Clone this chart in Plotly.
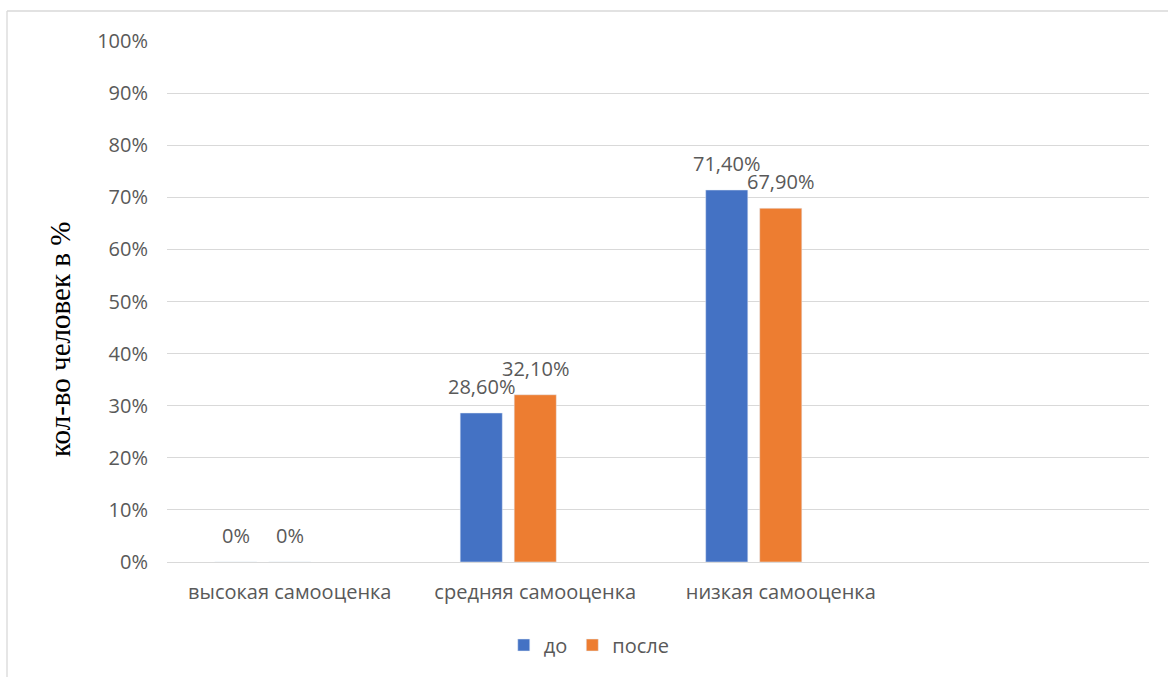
import plotly.graph_objects as go

# Chart data
categories = ["высокая самооценка", "средняя самооценка", "низкая самооценка"]
before = [0.0, 28.6, 71.4]
after = [0.0, 32.1, 67.9]
before_labels = ["0%", "28,60%", "71,40%"]
after_labels = ["0%", "32,10%", "67,90%"]
y_ticks = [0, 10, 20, 30, 40, 50, 60, 70, 80, 90, 100]
y_tick_text = [f"{v}%" for v in y_ticks]

W, H = 1168, 677
L, R, T, B = 167, 19, 41, 115
TEXT = "#595959"
FONT = "Open Sans"
FS = 20

fig = go.Figure()
fig.add_trace(go.Bar(name="до", x=categories, y=before, marker_color="#4472C4"))
fig.add_trace(go.Bar(name="после", x=categories, y=after, marker_color="#ED7D31"))
# empty third series keeps the group slots of the original workbook
fig.add_trace(go.Bar(
    name="", x=categories, y=[None, None, None], showlegend=False,
    marker_color="#A5A5A5", hoverinfo="skip",
))

pw = W - L - R
ph = H - T - B


def px_x(p):
    return (p - L) / pw


def px_y(p):
    return 1 - (p - T) / ph


# value labels sit above each bar, shifted to that series' slot in the group
slot = 54  # px between bar centres within a group
annotations = []
for values, labels, dx in ((before, before_labels, -slot), (after, after_labels, 0)):
    for cat, v, lab in zip(categories, values, labels):
        annotations.append(dict(
            x=cat, y=v, xref="x", yref="y", text=lab, showarrow=False,
            xanchor="center", yanchor="bottom", xshift=dx, yshift=11,
            font=dict(family=FONT, size=FS, color=TEXT),
        ))

annotations.append(dict(
    text="кол-во человек в %", textangle=-90,
    xref="paper", yref="paper", x=px_x(60), y=px_y(340),
    xanchor="center", yanchor="middle", showarrow=False,
    font=dict(family="Liberation Serif", size=29, color="black"),
))

fig.update_layout(
    width=W, height=H,
    margin=dict(l=L, r=R, t=T, b=B),
    paper_bgcolor="white", plot_bgcolor="white",
    barmode="group", bargap=0.34, bargroupgap=0.22,
    font=dict(family=FONT, color=TEXT, size=FS),
    xaxis=dict(
        type="category", categoryorder="array", categoryarray=categories,
        range=[-0.5, 3.5], showgrid=False, zeroline=False,
        showline=False, ticks="", ticklabelstandoff=16,
        tickfont=dict(size=FS, color=TEXT), fixedrange=True,
    ),
    yaxis=dict(
        range=[0, 100], tickvals=y_ticks, ticktext=y_tick_text,
        showgrid=True, gridcolor="#D9D9D9", gridwidth=1.3,
        zeroline=True, zerolinecolor="#D9D9D9", zerolinewidth=1.3,
        showline=False, ticks="", ticklabelstandoff=18,
        tickfont=dict(size=FS, color=TEXT),
    ),
    showlegend=True,
    legend=dict(
        orientation="h", x=0.43, xanchor="center",
        y=px_y(645), yanchor="middle",
        font=dict(size=FS, color=TEXT), itemwidth=30,
        traceorder="normal",
    ),
    annotations=annotations,
    shapes=[
        dict(type="line", xref="paper", yref="paper",
             x0=px_x(7), x1=px_x(1170), y0=px_y(11), y1=px_y(11),
             line=dict(color="#D9D9D9", width=1.3)),
        dict(type="line", xref="paper", yref="paper",
             x0=px_x(7), x1=px_x(7), y0=px_y(11), y1=px_y(680),
             line=dict(color="#D9D9D9", width=1.3)),
    ],
)

fig.write_html("out.html")
